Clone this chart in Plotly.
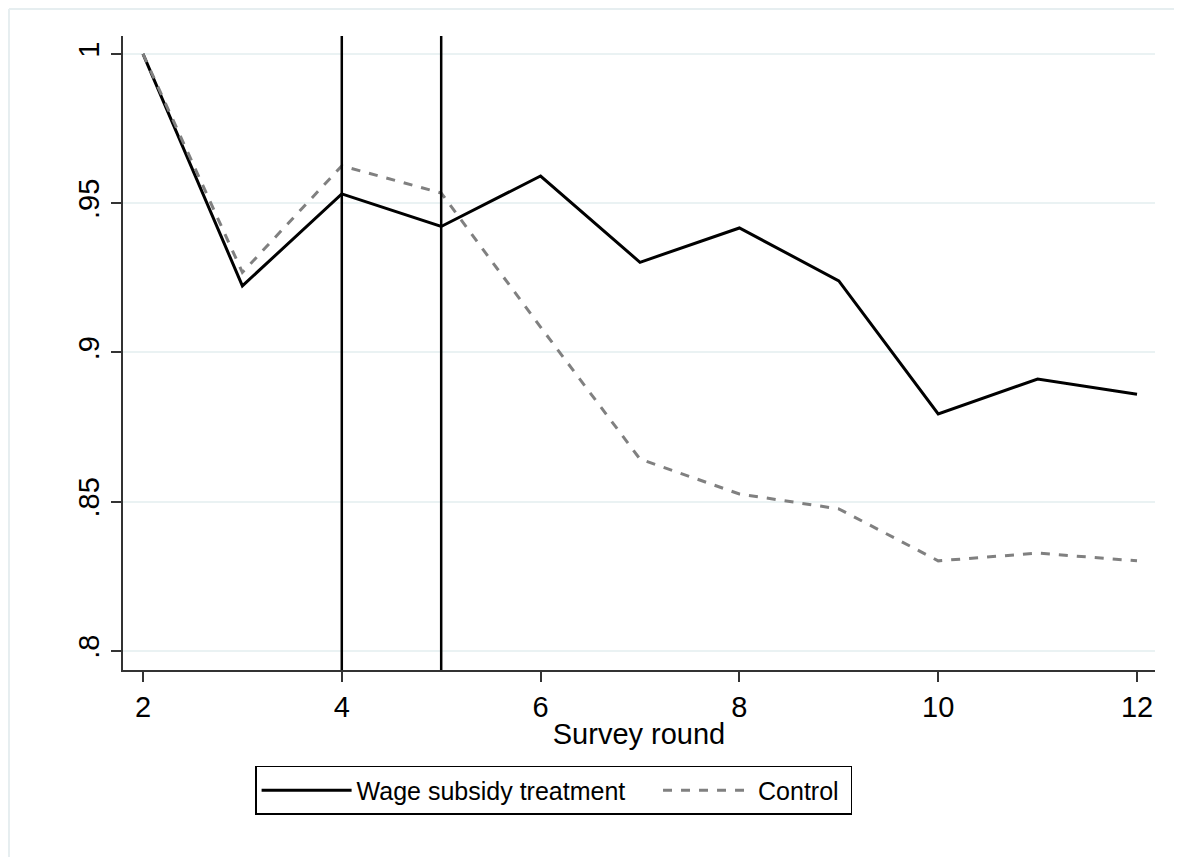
import plotly.graph_objects as go

rounds = [2, 3, 4, 5, 6, 7, 8, 9, 10, 11, 12]
treatment = [1.0, 0.9223, 0.9531, 0.9422, 0.9591, 0.9302, 0.9417, 0.9240, 0.8794, 0.8911, 0.8860]
control = [1.0, 0.9268, 0.9625, 0.9534, 0.9085, 0.8643, 0.8526, 0.8476, 0.8302, 0.8328, 0.8302]
x_ticks = [2, 4, 6, 8, 10, 12]
y_ticks = [0.8, 0.85, 0.9, 0.95, 1.0]
y_tick_text = [".8", ".85", ".9", ".95", "1"]
event_rounds = [4, 5]

FONT = "Liberation Sans, Arial, Helvetica, sans-serif"

fig = go.Figure()
fig.add_trace(go.Scatter(x=rounds, y=treatment, mode="lines", name="Wage subsidy treatment    ",
                         line=dict(color="black", width=3)))
fig.add_trace(go.Scatter(x=rounds, y=control, mode="lines", name="Control ",
                         line=dict(color="#808080", width=3, dash="dash")))

for r in event_rounds:
    fig.add_vline(x=r, line=dict(color="black", width=2.5))

# light outer frame (top and left edges visible)
fig.add_shape(type="line", xref="paper", yref="paper", x0=-0.1105, x1=1.05, y0=1.0426, y1=1.0426,
              line=dict(color="#E6EEF0", width=2), layer="below")
fig.add_shape(type="line", xref="paper", yref="paper", x0=-0.1105, x1=-0.1105, y0=1.0426, y1=-0.3,
              line=dict(color="#E6EEF0", width=2), layer="below")

fig.update_layout(
    width=1182, height=857,
    margin=dict(l=115, r=35, t=28, b=195),
    paper_bgcolor="white", plot_bgcolor="white",
    font=dict(family=FONT, size=25, color="black"),
    showlegend=True,
    legend=dict(orientation="h", x=0.128, xanchor="left", y=-0.1514, yanchor="top",
                bordercolor="black", borderwidth=1.5, font=dict(size=25),
                itemwidth=90, traceorder="normal"),
    xaxis=dict(range=[1.799, 12.181], tickvals=x_ticks, ticks="outside", ticklen=10, tickwidth=1.5,
               tickcolor="#333333", showline=True, linecolor="#333333", linewidth=2, showgrid=False,
               zeroline=False, title=dict(text="Survey round", standoff=2, font=dict(size=29)),
               tickfont=dict(size=29)),
    yaxis=dict(range=[0.79364, 1.006], tickvals=y_ticks, ticktext=y_tick_text, tickangle=-90,
               ticks="outside", ticklen=10, tickwidth=1.5, tickcolor="#333333", showline=True,
               linecolor="#333333", linewidth=2, showgrid=True, gridcolor="#EAF2F3", gridwidth=2,
               zeroline=False, tickfont=dict(size=29)),
)

fig.write_html("out.html")
